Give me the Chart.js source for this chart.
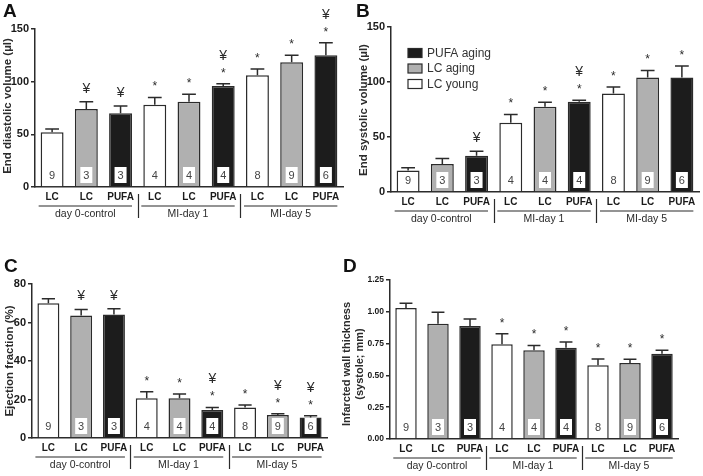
<!DOCTYPE html>
<html>
<head>
<meta charset="utf-8">
<script src="https://cdn.jsdelivr.net/npm/chart.js@4.4.0/dist/chart.umd.min.js"></script>
<style>
html, body { margin: 0; padding: 0; background: #fff; }
.panel { position: absolute; }
</style>
</head>
<body>
<div class="panel" style="left:0;top:0;width:350px;height:240px"><canvas id="chartA"></canvas></div>
<div class="panel" style="left:350px;top:0;width:353px;height:240px"><canvas id="chartB"></canvas></div>
<div class="panel" style="left:0;top:240px;width:350px;height:236px"><canvas id="chartC"></canvas></div>
<div class="panel" style="left:340px;top:240px;width:363px;height:236px"><canvas id="chartD"></canvas></div>
<script>
// categories and groups
const categories = ['LC', 'LC', 'PUFA', 'LC', 'LC', 'PUFA', 'LC', 'LC', 'PUFA'];
const groups = ['day 0-control', 'MI-day 1', 'MI-day 5'];
const nCounts = [9, 3, 3, 4, 4, 4, 8, 9, 6];
const legendLabels = ['PUFA aging', 'LC aging', 'LC young'];

// A - end diastolic volume
const edvMean = [52, 74, 70, 78, 81, 96, 106, 118.5, 125];
const edvErr = [3, 7, 7, 7, 7, 2, 6, 6.5, 12];
const edvSig = ['', '¥', '¥', '*', '*', '*¥', '*', '*', '*¥'];

// B - end systolic volume
const esvMean = [19.5, 25.5, 33, 63, 77.5, 82, 89.5, 104, 104];
const esvErr = [2.5, 5, 4, 7.5, 4, 1.5, 6, 6.5, 10.5];
const esvSig = ['', '', '¥', '*', '*', '*¥', '*', '*', '*'];

// C - ejection fraction
const efMean = [70, 63.7, 64.2, 20.6, 20.6, 14.5, 15.8, 12, 10.7];
const efErr = [2.4, 3.1, 2.9, 3.4, 2.3, 1.4, 1.3, 0.6, 0.8];
const efSig = ['', '¥', '¥', '*', '*', '*¥', '*', '*¥', '*¥'];

// D - infarcted wall thickness
const iwtMean = [1.03, 0.907, 0.888, 0.744, 0.697, 0.718, 0.579, 0.597, 0.671];
const iwtErr = [0.037, 0.089, 0.055, 0.084, 0.039, 0.045, 0.05, 0.029, 0.026];
const iwtSig = ['', '', '', '*', '*', '*', '*', '*', '*'];

const fillWhite = '#ffffff';
const fillGray = '#b0b0b0';
const fillBlack = '#1c1c1c';
const barFills = [fillWhite, fillGray, fillBlack, fillWhite, fillGray, fillBlack, fillWhite, fillGray, fillBlack];
const legendFills = [fillBlack, fillGray, fillWhite];

const FONT = "'Liberation Sans', Arial, sans-serif";
const INK = '#2b2b2b';

const panels = {
    chartA: {
        letter: 'A', letterX: 3, letterY: 17,
        w: 350, h: 240, area: { left: 35, top: 29, right: 343, bottom: 187 },
        mean: edvMean, err: edvErr, sig: edvSig,
        max: 150, step: 50, tickSize: 11, digits: 0,
        title: ['End diastolic volume (µl)'], titleX: [8], titleY: 106, titleSize: 11.5
    },
    chartB: {
        letter: 'B', letterX: 6, letterY: 17,
        w: 353, h: 240, area: { left: 41, top: 27, right: 349, bottom: 192 },
        mean: esvMean, err: esvErr, sig: esvSig,
        max: 150, step: 50, tickSize: 11, digits: 0,
        title: ['End systolic volume (µl)'], titleX: [14], titleY: 110, titleSize: 11.5,
        legend: true
    },
    chartC: {
        letter: 'C', letterX: 4, letterY: 32,
        w: 350, h: 236, area: { left: 32, top: 44, right: 327, bottom: 198 },
        mean: efMean, err: efErr, sig: efSig,
        max: 80, step: 20, tickSize: 11, digits: 0,
        title: ['Ejection fraction (%)'], titleX: [10], titleY: 121, titleSize: 11.5
    },
    chartD: {
        letter: 'D', letterX: 3, letterY: 32,
        w: 363, h: 236, area: { left: 50, top: 40, right: 338, bottom: 199 },
        mean: iwtMean, err: iwtErr, sig: iwtSig,
        max: 1.25, step: 0.25, tickSize: 8.5, digits: 2,
        title: ['Infarcted wall thickness', '(systole; mm)'], titleX: [7, 20], titleY: 124, titleSize: 11
    }
};

const decor = {
    id: 'decor',
    afterDatasetsDraw(chart) {
        const p = panels[chart.canvas.id];
        const ctx = chart.ctx;
        const meta = chart.getDatasetMeta(0);
        const y = chart.scales.y;
        const xs = chart.scales.x;
        const base = chart.chartArea.bottom;
        ctx.save();

        meta.data.forEach((bar, i) => {
            const top = y.getPixelForValue(p.mean[i] + p.err[i]);
            const half = bar.width * 0.3;
            // error bar (upper only)
            ctx.strokeStyle = INK;
            ctx.lineWidth = 1.5;
            ctx.beginPath();
            ctx.moveTo(bar.x, bar.y);
            ctx.lineTo(bar.x, top);
            ctx.moveTo(bar.x - half, top);
            ctx.lineTo(bar.x + half, top);
            ctx.stroke();

            // n box
            ctx.fillStyle = '#fff';
            ctx.fillRect(bar.x - 6, base - 20, 12, 16);
            ctx.fillStyle = '#444';
            ctx.font = `11px ${FONT}`;
            ctx.textAlign = 'center';
            ctx.textBaseline = 'middle';
            ctx.fillText(String(nCounts[i]), bar.x, base - 11.5);

            // significance marks
            const s = p.sig[i];
            ctx.fillStyle = INK;
            ctx.textBaseline = 'alphabetic';
            let c = top - 14;
            if (s.includes('*')) {
                ctx.font = `12px ${FONT}`;
                ctx.fillText('*', bar.x, c + 7);
                c -= 15;
            }
            if (s.includes('¥')) {
                ctx.font = `14px ${FONT}`;
                ctx.fillText('¥', bar.x, c + 5);
            }
        });

        // group underlines, labels, separators
        const bars = meta.data;
        ctx.strokeStyle = INK;
        ctx.lineWidth = 1.2;
        ctx.fillStyle = INK;
        ctx.font = `10.5px ${FONT}`;
        ctx.textAlign = 'center';
        ctx.textBaseline = 'middle';
        groups.forEach((g, gi) => {
            const b0 = bars[gi * 3], b2 = bars[gi * 3 + 2];
            const x0 = b0.x - b0.width / 2 - 2;
            const x1 = b2.x + b2.width / 2;
            ctx.beginPath();
            ctx.moveTo(x0, base + 19);
            ctx.lineTo(x1, base + 19);
            ctx.stroke();
            ctx.fillText(g, (x0 + x1) / 2, base + 27.5);
            if (gi > 0) {
                const sx = Math.round((xs.getPixelForValue(gi * 3 - 1) + xs.getPixelForValue(gi * 3)) / 2) + 0.5;
                ctx.beginPath();
                ctx.moveTo(sx, base + 7);
                ctx.lineTo(sx, base + 31);
                ctx.stroke();
            }
        });

        // y title
        ctx.font = `bold ${p.titleSize}px ${FONT}`;
        p.title.forEach((t, ti) => {
            ctx.save();
            ctx.translate(p.titleX[ti], p.titleY);
            ctx.rotate(-Math.PI / 2);
            ctx.fillText(t, 0, 0);
            ctx.restore();
        });

        // panel letter
        ctx.font = `bold 19px ${FONT}`;
        ctx.textAlign = 'left';
        ctx.textBaseline = 'alphabetic';
        ctx.fillStyle = '#111';
        ctx.fillText(p.letter, p.letterX, p.letterY);

        // legend (panel B only)
        if (p.legend) {
            ctx.font = `12px ${FONT}`;
            ctx.textBaseline = 'middle';
            legendLabels.forEach((lab, li) => {
                const cy = 53 + li * 15.5;
                ctx.fillStyle = legendFills[li];
                ctx.fillRect(58, cy - 4.5, 14, 9);
                ctx.strokeStyle = INK;
                ctx.lineWidth = 1.2;
                ctx.strokeRect(58, cy - 4.5, 14, 9);
                ctx.fillStyle = '#333';
                ctx.fillText(lab, 77, cy + 0.5);
            });
        }
        ctx.restore();
    }
};

function makeChart(id) {
    const p = panels[id];
    return new Chart(document.getElementById(id), {
        type: 'bar',
        data: {
            labels: categories,
            datasets: [{
                data: p.mean,
                backgroundColor: barFills,
                borderColor: INK,
                borderWidth: 1.5,
                barPercentage: 0.67,
                categoryPercentage: 1
            }]
        },
        options: {
            responsive: true,
            maintainAspectRatio: false,
            animation: false,
            layout: { padding: { left: 0, top: p.area.top, right: p.w - p.area.right, bottom: 0 } },
            plugins: {
                legend: { display: false },
                tooltip: { enabled: false }
            },
            scales: {
                x: {
                    grid: { display: true, drawOnChartArea: false, drawTicks: false },
                    border: { color: INK, width: 1.5 },
                    ticks: {
                        font: { family: FONT, size: 10, weight: 'bold' },
                        color: '#1a1a1a',
                        padding: 4,
                        maxRotation: 0,
                        autoSkip: false
                    },
                    afterFit: s => { s.height = p.h - p.area.bottom; }
                },
                y: {
                    min: 0,
                    max: p.max,
                    ticks: {
                        stepSize: p.step,
                        font: { family: FONT, size: p.tickSize, weight: 'bold' },
                        color: '#1a1a1a',
                        padding: 2,
                        callback: v => Number(v).toFixed(p.digits)
                    },
                    grid: { drawOnChartArea: false, tickLength: 4, color: INK, lineWidth: 1.5 },
                    border: { color: INK, width: 1.5 },
                    afterFit: s => { s.width = p.area.left; }
                }
            }
        },
        plugins: [decor]
    });
}

Object.keys(panels).forEach(makeChart);
</script>
</body>
</html>
